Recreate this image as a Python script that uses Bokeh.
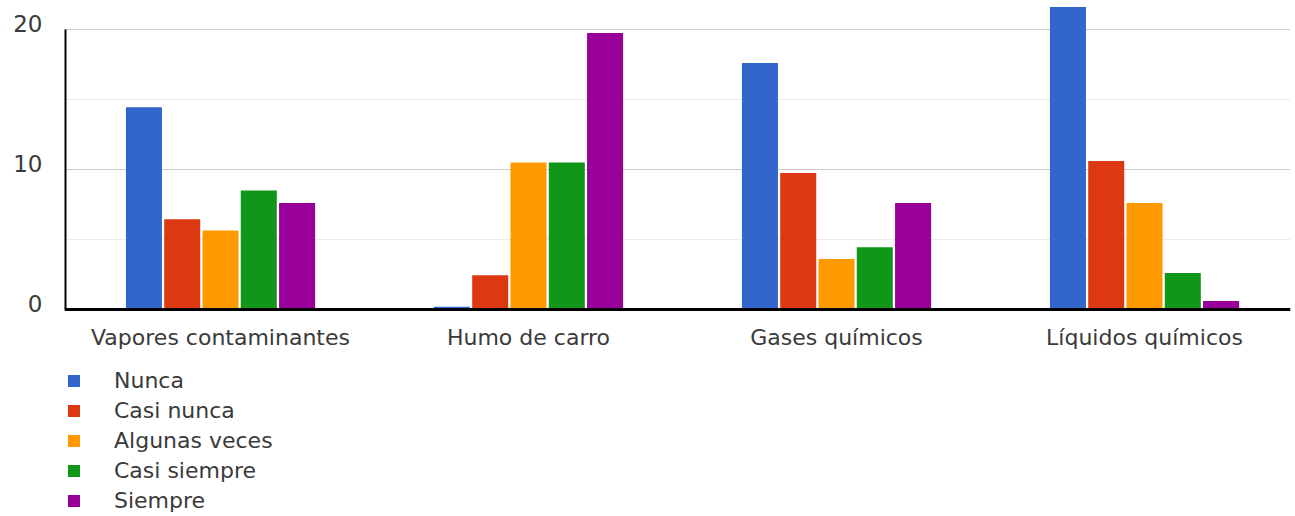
from bokeh.plotting import figure
from bokeh.models import Range1d, LinearAxis, FixedTicker, Legend, LegendItem, Grid, Span
from bokeh.core.properties import value
from bokeh.embed import file_html
from bokeh.resources import INLINE

categories = ["Vapores contaminantes", "Humo de carro", "Gases químicos", "Líquidos químicos"]
series = ["Nunca", "Casi nunca", "Algunas veces", "Casi siempre", "Siempre"]
nunca = [14.45, 0.2, 17.6, 21.6]
casi_nunca = [6.45, 2.45, 9.75, 10.6]
algunas_veces = [5.65, 10.5, 3.6, 7.6]
casi_siempre = [8.5, 10.5, 4.45, 2.6]
siempre = [7.6, 19.75, 7.6, 0.6]
colors = ["#3366cc", "#dc3912", "#ff9900", "#109618", "#990099"]
y_ticks = [0, 10, 20]
y_minor = [5, 15]

values = [nunca, casi_nunca, algunas_veces, casi_siempre, siempre]

FONT = "DejaVu Sans"
TXT = "#3a3a3a"

Y0, Y1 = -14.786, 22.07          # plot range (lower part hosts labels + legend)
p = figure(
    width=1295, height=516,
    x_range=Range1d(-0.5065, 3.474), y_range=Range1d(Y0, Y1),
    x_axis_location=None, y_axis_location=None,
    min_border_left=64, min_border_right=5, min_border_top=0, min_border_bottom=0,
    output_backend="svg", toolbar_location=None,
)
p.outline_line_color = None
p.xgrid.visible = False
p.ygrid.visible = False

grid = Grid(dimension=1, ticker=FixedTicker(ticks=[10, 20], minor_ticks=y_minor),
            grid_line_color="#cccccc", minor_grid_line_color="#ebebeb")
p.add_layout(grid, "center")

step = 0.1243
bw = 0.117
renderers = []
for i, (name, vals, col) in enumerate(zip(series, values, colors)):
    xs = [j + (i - 2) * step for j in range(len(categories))]
    r = p.vbar(x=xs, top=vals, width=bw, bottom=0, fill_color=col, line_color=None)
    renderers.append(r)

# baseline and left axis line
p.add_layout(Span(location=0, dimension="width", line_color="black", line_width=3))
p.segment(x0=[p.x_range.start], x1=[p.x_range.start], y0=[0], y1=[max(y_ticks)],
          line_color="black", line_width=4)

# category labels under the baseline
p.text(x=list(range(len(categories))), y=[-2.0] * len(categories), text=categories,
       text_align="center", text_baseline="middle",
       text_font=value(FONT), text_font_size="22px", text_color=TXT)

# y labels axis (offset slightly above grid lines like reference)
p.extra_y_ranges = {"lab": Range1d(Y0 - 0.43, Y1 - 0.43)}
ya = LinearAxis(y_range_name="lab", ticker=FixedTicker(ticks=y_ticks))
ya.axis_line_color = None
ya.major_tick_line_color = None
ya.minor_tick_line_color = None
ya.major_label_standoff = 16
ya.major_label_text_font = FONT
ya.major_label_text_font_size = "23px"
ya.major_label_text_color = TXT
p.add_layout(ya, "left")

legend = Legend(items=[LegendItem(label=s, renderers=[r]) for s, r in zip(series, renderers)],
                location=(2, 3), orientation="vertical",
                margin=0, padding=0, spacing=4,
                glyph_width=15, glyph_height=15, label_standoff=33, label_height=26,
                label_text_font=FONT, label_text_font_size="22px", label_text_color=TXT,
                border_line_color=None, background_fill_alpha=0)
p.add_layout(legend, "center")

open("out.html", "w").write(file_html(p, INLINE))
